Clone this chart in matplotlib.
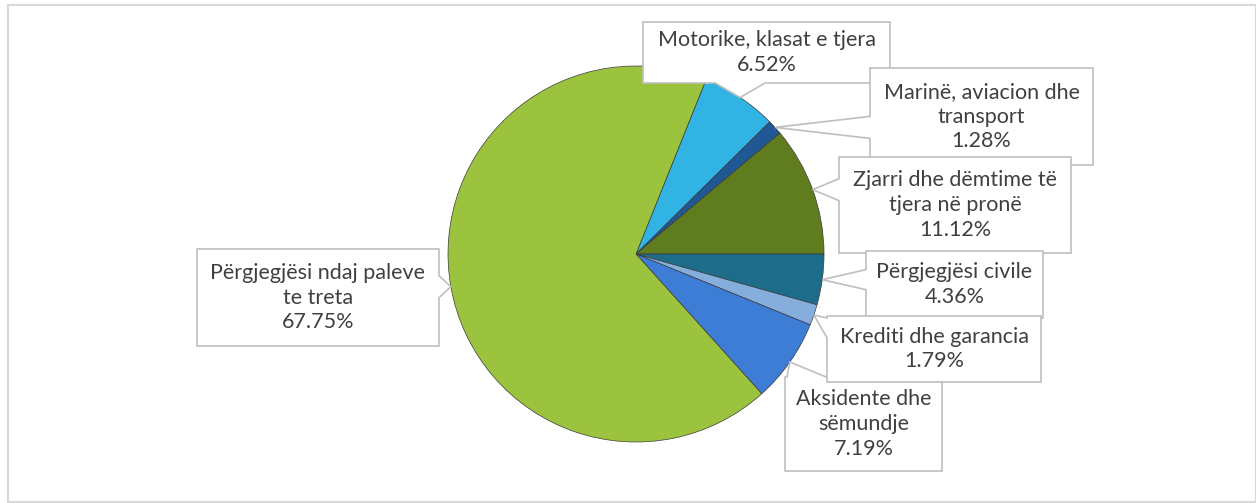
import numpy as np
import matplotlib
matplotlib.use("Agg")
import matplotlib.pyplot as plt
from matplotlib.patches import Polygon, Rectangle

# data (clockwise from the top)
labels = [
    "Motorike, klasat e tjera",
    "Marinë, aviacion dhe\ntransport",
    "Zjarri dhe dëmtime të\ntjera në pronë",
    "Përgjegjësi civile",
    "Krediti dhe garancia",
    "Aksidente dhe\nsëmundje",
    "Përgjegjësi ndaj paleve\nte treta",
]
shares = [6.52, 1.28, 11.12, 4.36, 1.79, 7.19, 67.75]
colors = ["#31B4E4", "#1F5894", "#5F7D1F", "#1C6C8A", "#86AEDD", "#3D7DD6", "#9CC33E"]

# callout boxes in pixel coords (x0, y0, x1, y1), y measured from top
boxes = [
    (643, 22, 890, 83),
    (870, 68, 1093, 165),
    (839, 157, 1071, 253),
    (866, 251, 1043, 318),
    (827, 316, 1041, 382),
    (785, 377, 942, 471),
    (197, 249, 439, 346),
]
box_z = [3, 4, 5, 6, 8, 7, 3]

W, H = 1256, 503
cx, cy, r = 636, H - 254, 188

fig = plt.figure(figsize=(W / 100, H / 100), dpi=100)
ax = fig.add_axes([0, 0, 1, 1])

# Zjarri ends at 3 o'clock
start = 360 * sum(shares[:3]) / 100
wedges, _ = ax.pie(shares, colors=colors, startangle=start, counterclock=False,
                   center=(cx, cy), radius=r, frame=True,
                   wedgeprops=dict(edgecolor="#3a3a3a", linewidth=0.5))
ax.set_xlim(0, W)
ax.set_ylim(0, H)
ax.set_aspect("equal")
ax.axis("off")

# outer frame of the chart area
fig.patches.append(Rectangle((8 / W, 1 / H), (W - 8) / W, (H - 6) / H,
                             transform=fig.transFigure, fill=False,
                             edgecolor="#D9D9D9", linewidth=1.5))


def callout(box, tip, z):
    x0, y0, x1, y1 = box
    y0, y1 = H - y1, H - y0
    tx, ty = tip
    # pick the box edge facing the tip
    side = np.argmax([x0 - tx, tx - x1, y0 - ty, ty - y1])
    if side in (0, 1):
        w = min(22, 0.3 * (y1 - y0))
        c = np.clip(ty, y0 + w / 2 + 2, y1 - w / 2 - 2)
        lo, hi = c - w / 2, c + w / 2
        if side == 0:
            pts = [(x0, y0), (x0, lo), (tx, ty), (x0, hi), (x0, y1), (x1, y1), (x1, y0)]
        else:
            pts = [(x0, y0), (x0, y1), (x1, y1), (x1, hi), (tx, ty), (x1, lo), (x1, y0)]
    else:
        w = min(50, 0.25 * (x1 - x0))
        c = np.clip(tx, x0 + w / 2 + 2, x1 - w / 2 - 2)
        lo, hi = c - w / 2, c + w / 2
        if side == 2:
            pts = [(x0, y0), (x0, y1), (x1, y1), (x1, y0), (hi, y0), (tx, ty), (lo, y0)]
        else:
            pts = [(x0, y0), (x0, y1), (lo, y1), (tx, ty), (hi, y1), (x1, y1), (x1, y0)]
    ax.add_patch(Polygon(pts, closed=True, facecolor="white", edgecolor="#BFBFBF",
                         linewidth=1.2, zorder=z))


cum = 0
for lab, val, box, z in zip(labels, shares, boxes, box_z):
    mid = start - 360 * (cum + val / 2) / 100
    cum += val
    tip = (cx + r * np.cos(np.radians(mid)), cy + r * np.sin(np.radians(mid)))
    callout(box, tip, z)
    x0, y0, x1, y1 = box
    ax.text((x0 + x1) / 2, H - (y0 + y1) / 2, f"{lab}\n{val:.2f}%", ha="center", va="center",
            fontsize=15.5, family="Lato", color="#404040", linespacing=1.3, zorder=z + 0.5)

fig.savefig("out.png", dpi=100)
